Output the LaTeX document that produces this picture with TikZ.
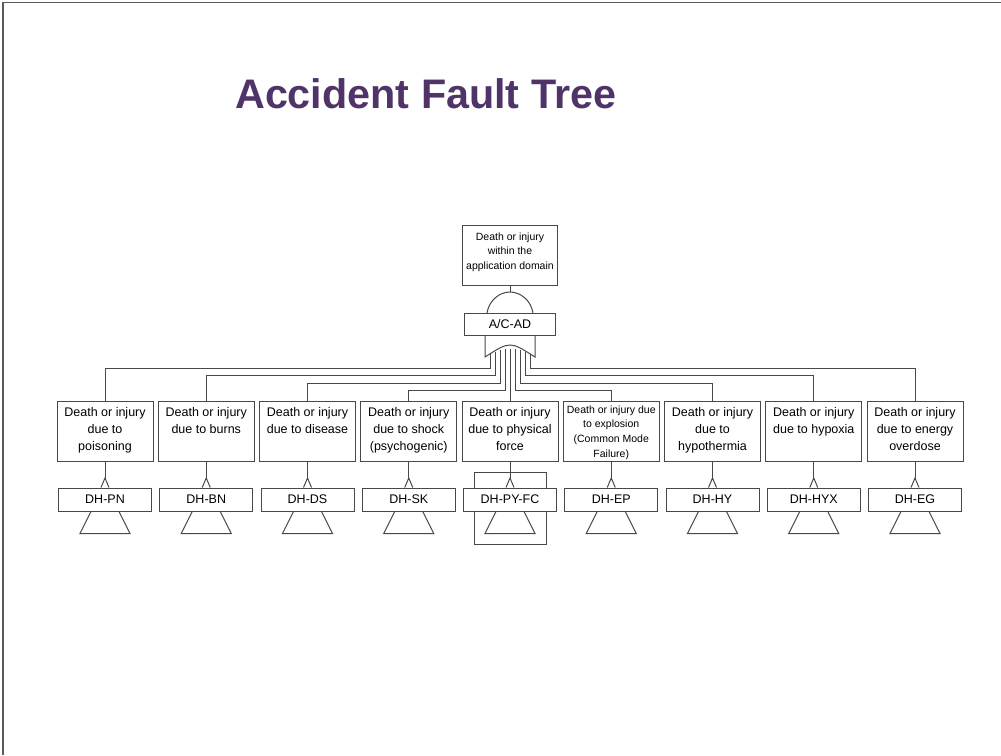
\documentclass[tikz,border=0pt]{standalone}
\usepackage{fontspec}
\setmainfont{Liberation Sans}
\definecolor{linec}{RGB}{72,72,72}
\definecolor{framec}{RGB}{90,90,90}
\definecolor{titlec}{RGB}{80,51,105}
\begin{document}
\begin{tikzpicture}[x=1pt,y=-1pt,
  wire/.style={draw=linec,line width=1pt},
  evbox/.style={draw=linec,line width=1pt,fill=white,minimum width=96pt,minimum height=60pt,inner sep=0pt},
  evtext/.style={anchor=north,inner sep=0pt,align=center,font=\fontsize{12.5}{17}\selectfont},
  smalltext/.style={anchor=north,inner sep=0pt,align=center,font=\fontsize{10.5}{14.6}\selectfont},
  idbox/.style={draw=linec,line width=1pt,fill=white,minimum width=93pt,minimum height=23pt,inner sep=0pt,font=\fontsize{12.5}{15}\selectfont}]
\useasboundingbox (0,0) rectangle (1001,755);

% slide frame
\draw[draw=framec,line width=1.3pt] (3,755) -- (3,2.5) -- (1001,2.5);

% title
\node[anchor=base west,inner sep=0pt,text=titlec,font=\fontsize{41.3}{50}\bfseries\selectfont] (title) at (235,108) {Accident Fault Tree};

% top event and its AND gate
\node[draw=linec,line width=1pt,fill=white,minimum width=95pt,minimum height=60pt,inner sep=0pt] (top) at (510,255) {};
\node[smalltext] (toptext) at ([yshift=-8pt]top.north) {Death or injury\\within the\\application domain};
\coordinate (andtop) at (510,292);
\draw[wire] (top.south) -- (andtop);
\draw[wire] (487,313) .. controls (489,300) and (500,292) .. (andtop) .. controls (520,292) and (531,300) .. (533,313);

% intermediate event A/C-AD with its OR gate
\node[draw=linec,line width=1pt,fill=white,minimum width=91pt,minimum height=22pt,inner sep=0pt,font=\fontsize{12.5}{15}\selectfont] (ac) at (510,324) {A/C-AD};
\draw[wire] (ac.south -| 485,0) -- (485,357) .. controls (510,341) .. (535,357) -- (ac.south -| 535,0);

% gate inputs on the OR curve
\coordinate (g1) at (490,354.1);
\coordinate (g2) at (495,351.9);
\coordinate (g3) at (500,350.3);
\coordinate (g4) at (505,349.3);
\coordinate (g5) at (510,349);
\coordinate (g6) at (515,349.3);
\coordinate (g7) at (520,350.3);
\coordinate (g8) at (525,351.9);
\coordinate (g9) at (530,354.1);

% second-level events
\foreach \x/\i/\code in {105/1/DH-PN,206.25/2/DH-BN,307.5/3/DH-DS,408.75/4/DH-SK,510/5/DH-PY-FC,611.25/6/DH-EP,712.5/7/DH-HY,813.75/8/DH-HYX,915/9/DH-EG}{
  \node[evbox] (b\i) at (\x,431) {};
  \coordinate (a\i) at (\x,478);
}

% branches from the OR gate
\draw[wire] (g1) -- (g1 |- 0,368) -| (b1.north);
\draw[wire] (g2) -- (g2 |- 0,375.7) -| (b2.north);
\draw[wire] (g3) -- (g3 |- 0,383.2) -| (b3.north);
\draw[wire] (g4) -- (g4 |- 0,390.7) -| (b4.north);
\draw[wire] (g5) -- (b5.north);
\draw[wire] (g6) -- (g6 |- 0,390.7) -| (b6.north);
\draw[wire] (g7) -- (g7 |- 0,383.2) -| (b7.north);
\draw[wire] (g8) -- (g8 |- 0,375.7) -| (b8.north);
\draw[wire] (g9) -- (g9 |- 0,368) -| (b9.north);

% event descriptions
\node[evtext] (t1) at ([yshift=-7pt]b1.north) {Death or injury\\due to\\poisoning};
\node[evtext] (t2) at ([yshift=-7pt]b2.north) {Death or injury\\due to burns};
\node[evtext] (t3) at ([yshift=-7pt]b3.north) {Death or injury\\due to disease};
\node[evtext] (t4) at ([yshift=-7pt]b4.north) {Death or injury\\due to shock\\(psychogenic)};
\node[evtext] (t5) at ([yshift=-7pt]b5.north) {Death or injury\\due to physical\\force};
\node[smalltext] (t6) at ([yshift=-5pt]b6.north) {Death or injury due\\to explosion\\(Common Mode\\Failure)};
\node[evtext] (t7) at ([yshift=-7pt]b7.north) {Death or injury\\due to\\hypothermia};
\node[evtext] (t8) at ([yshift=-7pt]b8.north) {Death or injury\\due to hypoxia};
\node[evtext] (t9) at ([yshift=-7pt]b9.north) {Death or injury\\due to energy\\overdose};

% common cause enclosure around DH-PY-FC
\draw[wire] (474,472) rectangle (546,544);

% transferred sub-trees
\foreach \x/\i/\code in {105/1/DH-PN,206.25/2/DH-BN,307.5/3/DH-DS,408.75/4/DH-SK,510/5/DH-PY-FC,611.25/6/DH-EP,712.5/7/DH-HY,813.75/8/DH-HYX,915/9/DH-EG}{
  \draw[wire] (b\i.south) -- (a\i);
  \node[idbox] (d\i) at (\x,499.5) {\code};
  \draw[wire] ([xshift=-4pt]d\i.north) -- (a\i) -- ([xshift=4pt]d\i.north);
  \draw[wire] ([xshift=-14pt]d\i.south) -- ++(-11,22) -- ++(50,0) -- ++(-11,-22);
}
\end{tikzpicture}
\end{document}
